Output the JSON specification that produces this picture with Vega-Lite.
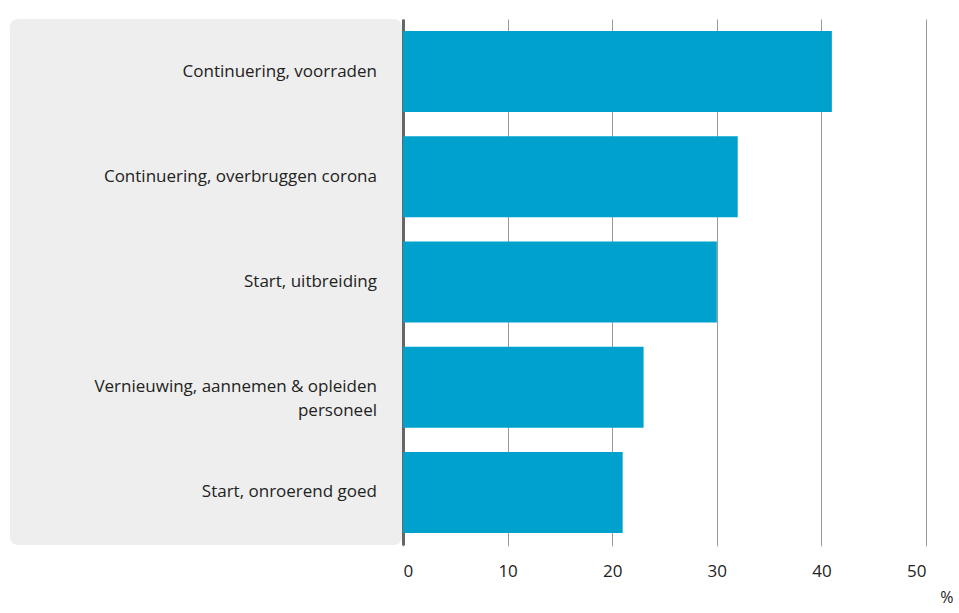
{
  "$schema": "https://vega.github.io/schema/vega-lite/v6.json",
  "background": "white",
  "padding": {"left": 10, "top": 19, "right": 0, "bottom": 0},
  "spacing": 0,
  "data": {
    "values": [
      {"label": "Continuering, voorraden", "value": 41},
      {"label": "Continuering, overbruggen corona", "value": 32},
      {"label": "Start, uitbreiding", "value": 30},
      {"label": "Vernieuwing, aannemen & opleiden\npersoneel", "value": 23},
      {"label": "Start, onroerend goed", "value": 21}
    ]
  },
  "hconcat": [
    {
      "width": 392,
      "height": 526,
      "view": {"fill": "#eeeeee", "stroke": null, "cornerRadius": 8},
      "mark": {"type": "text", "align": "right", "baseline": "middle", "dx": -25, "font": "Open Sans", "fontSize": 17, "color": "#222222", "lineBreak": "\n", "lineHeight": 24},
      "encoding": {
        "y": {"field": "label", "type": "nominal", "sort": null, "axis": null, "scale": {"paddingInner": 0.23, "paddingOuter": 0.114}},
        "x": {"datum": 1, "type": "quantitative", "scale": {"domain": [0, 1]}, "axis": null},
        "text": {"field": "label"}
      }
    },
    {
      "width": 523,
      "height": 526,
      "view": {"stroke": null},
      "mark": {"type": "bar", "color": "#00a1cd"},
      "encoding": {
        "y": {"field": "label", "type": "nominal", "sort": null, "scale": {"paddingInner": 0.23, "paddingOuter": 0.114},
          "axis": {"labels": false, "ticks": false, "title": null, "domainColor": "#666666", "domainWidth": 3, "grid": false}},
        "x": {"field": "value", "type": "quantitative", "scale": {"domain": [0, 50], "nice": false},
          "axis": {"values": [0, 10, 20, 30, 40, 50], "grid": true, "gridColor": "#999999", "gridWidth": 1, "domain": false, "tickColor": "#999999", "tickSize": 1, "labelPadding": 17, "labelFont": "Open Sans", "labelFontSize": 17, "labelColor": "#222222", "title": "%", "titleFont": "Open Sans", "titleFontSize": 16, "titleFontWeight": "normal", "titleColor": "#222222", "titleAnchor": "end", "titleAlign": "right", "titleX": 550, "titleY": 57, "titleBaseline": "alphabetic"}
        }
      }
    }
  ]
}
